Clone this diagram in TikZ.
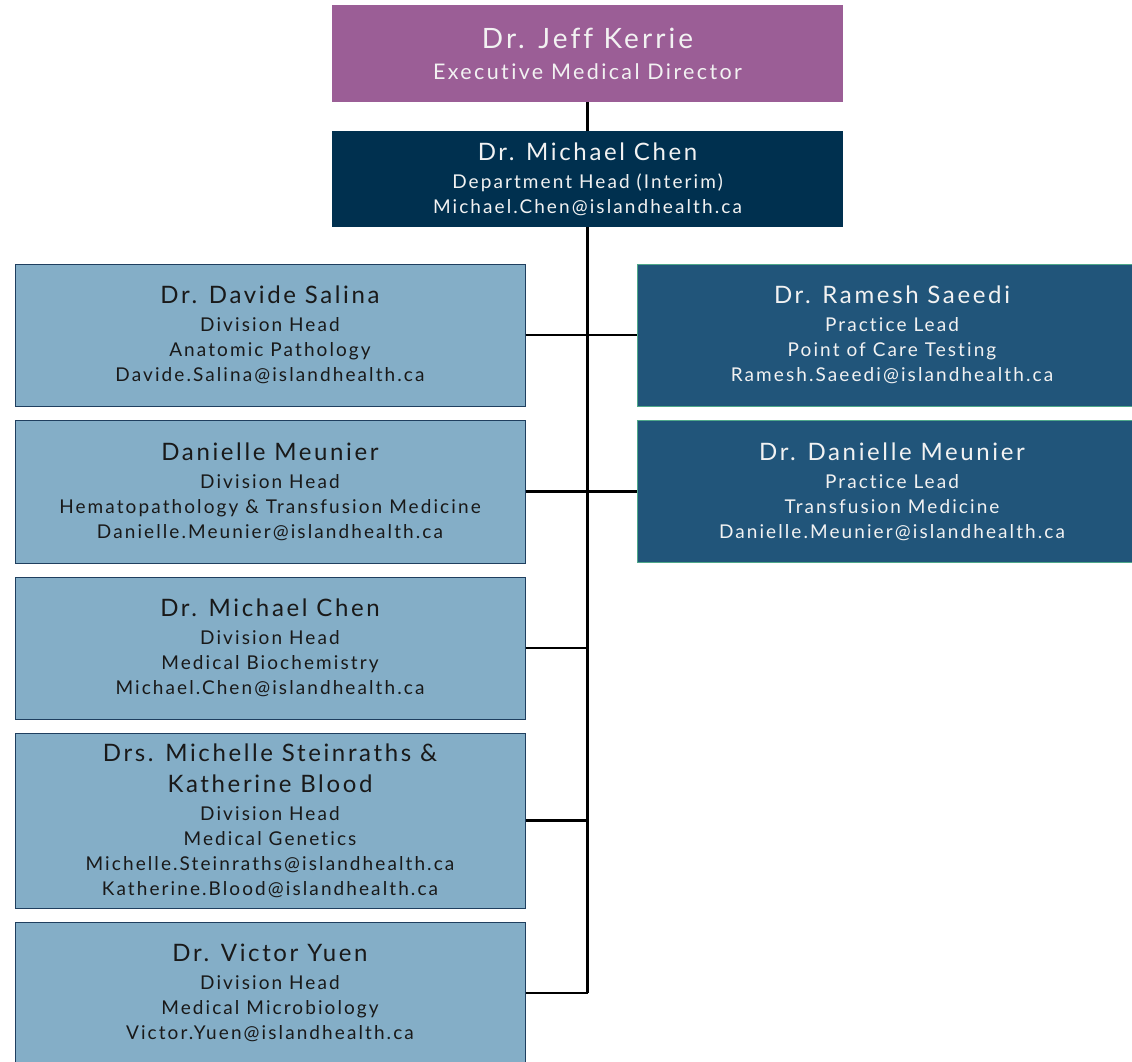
\documentclass[tikz,border=0pt]{standalone}
\usepackage{fontspec}
\setmainfont{Lato}[LetterSpace=11,Ligatures=NoCommon]
\definecolor{execpurple}{HTML}{9B5E96}
\definecolor{deptnavy}{HTML}{00304F}
\definecolor{divblue}{HTML}{84AEC7}
\definecolor{divedge}{HTML}{1F3F5F}
\definecolor{leadblue}{HTML}{21557A}
\definecolor{leadedge}{HTML}{4FA88A}
\newcommand{\namefont}{\fontsize{24}{29}\selectfont}

\begin{document}
\begin{tikzpicture}[x=1pt,y=-1pt,
    box/.style={rectangle,inner sep=0pt,align=center,font=\fontsize{19}{25}\selectfont},
    execbox/.style={box,fill=execpurple,text=white!95!black,minimum width=511pt,minimum height=97pt},
    deptbox/.style={box,fill=deptnavy,text=white!95!black,minimum width=511pt,minimum height=96pt},
    divbox/.style={box,draw=divedge,line width=1pt,fill=divblue,text=black!90,minimum width=510pt},
    leadbox/.style={box,draw=leadedge,line width=1pt,fill=leadblue,text=white!95!black,minimum width=510pt,minimum height=142pt},
    link/.style={line width=2.6pt}]
    \useasboundingbox (0,0) rectangle (1132,1062);

    \node[execbox] (exec) at (587.5,53.5) {{\fontsize{28}{33}\selectfont Dr. Jeff Kerrie}\\[6pt]{\fontsize{21.5}{25}\selectfont Executive Medical Director}};
    \node[deptbox] (dept) at (587.5,179) {{\namefont Dr. Michael Chen}\\[3pt]Department Head (Interim)\\Michael.Chen@islandhealth.ca};

    \node[divbox,minimum height=142pt] (anat) at (270,335) {{\namefont Dr. Davide Salina}\\[3pt]Division Head\\Anatomic Pathology\\Davide.Salina@islandhealth.ca};
    \node[divbox,minimum height=143pt] (hema) at (270,491.5) {{\namefont Danielle Meunier}\\[3pt]Division Head\\Hematopathology \& Transfusion Medicine\\Danielle.Meunier@islandhealth.ca};
    \node[divbox,minimum height=142pt] (bioc) at (270,648) {{\namefont Dr. Michael Chen}\\[3pt]Division Head\\Medical Biochemistry\\Michael.Chen@islandhealth.ca};
    \node[divbox,minimum height=175pt] (gene) at (270,820.5) {{\namefont Drs. Michelle Steinraths \&}\\[6pt]{\namefont Katherine Blood}\\[3pt]Division Head\\Medical Genetics\\Michelle.Steinraths@islandhealth.ca\\Katherine.Blood@islandhealth.ca};
    \node[divbox,minimum height=142pt] (micr) at (270,993) {{\namefont Dr. Victor Yuen}\\[3pt]Division Head\\Medical Microbiology\\Victor.Yuen@islandhealth.ca};

    \node[leadbox] (poct) at (892,335) {{\namefont Dr. Ramesh Saeedi}\\[3pt]Practice Lead\\Point of Care Testing\\Ramesh.Saeedi@islandhealth.ca};
    \node[leadbox] (tran) at (892,491.5) {{\namefont Dr. Danielle Meunier}\\[3pt]Practice Lead\\Transfusion Medicine\\Danielle.Meunier@islandhealth.ca};

    \coordinate (trunk) at (dept.south |- micr.east);
    \draw[link] (exec.south) -- (dept.north);
    \draw[link] (dept.south) -- (trunk);
    \draw[link] (anat.east) -- (poct.west);
    \draw[link] (hema.east) -- (tran.west);
    \draw[link] (bioc.east) -- (bioc.east -| trunk);
    \draw[link] (gene.east) -- (gene.east -| trunk);
    \draw[link] (micr.east) -- (trunk);
\end{tikzpicture}
\end{document}
